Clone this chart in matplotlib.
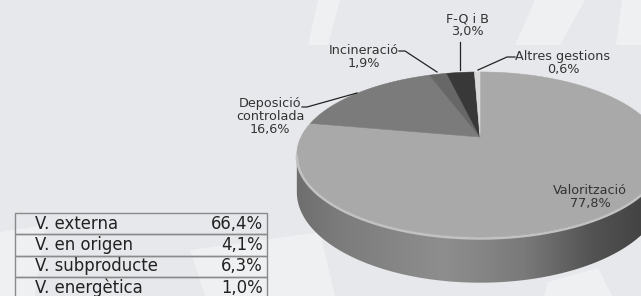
import numpy as np
import matplotlib.pyplot as plt
from matplotlib.patches import Polygon, Rectangle
from matplotlib.colors import LinearSegmentedColormap

# pie data (clockwise from 12 o'clock)
labels = ["Valorització", "Deposició\ncontrolada", "Incineració", "F-Q i B", "Altres gestions"]
values = [77.8, 16.6, 1.9, 3.0, 0.6]
top_colors = ["#a9a9a9", "#7b7b7b", "#676767", "#383838", "#dadada"]

# table under the pie
table_names = ["V. externa", "V. en origen", "V. subproducte", "V. energètica"]
table_values = [66.4, 4.1, 6.3, 1.0]

W, H = 641, 296
fig = plt.figure(figsize=(W / 100, H / 100), dpi=100)
fig.patch.set_facecolor("#e7e8eb")
ax = fig.add_axes([0, 0, 1, 1])
ax.set_xlim(0, W)
ax.set_ylim(H, 0)
ax.axis("off")

# faded watermark shapes in the background
wm = "#eff0f2"
for pts in [
    [(318, 0), (340, 0), (328, 45), (308, 45)],
    [(535, 0), (585, 0), (560, 45), (515, 45)],
    [(622, 0), (641, 0), (641, 45), (616, 45)],
    [(190, 250), (320, 232), (335, 296), (205, 296)],
    [(0, 232), (45, 225), (35, 296), (0, 296)],
    [(548, 282), (598, 268), (612, 296), (544, 296)],
]:
    ax.add_patch(Polygon(pts, closed=True, fc=wm, ec="none", zorder=0))

# perspective ellipse for the 3D pie
cx, cy = 480, 137
Rx, K, C = 179, 78.8, 0.212
T = 36


def proj(theta, drop=0.0):
    u, v = np.sin(theta), np.cos(theta)
    w = 1 + C * v
    return cx + Rx * u / w, cy - K * v / w + drop / w


# side band (front arc only), shaded with a horizontal gradient
t_lo = np.arccos(-C)
t_hi = 2 * np.pi - t_lo
ts = np.linspace(t_lo, t_hi, 300)
xt, yt = proj(ts)
xb, yb = proj(ts[::-1], T)
side = Polygon(list(zip(np.r_[xt, xb], np.r_[yt, yb])), closed=True,
               fc="none", ec="none", zorder=2)
ax.add_patch(side)
side_cmap = LinearSegmentedColormap.from_list(
    "side", [(0, "#6e6e6e"), (0.12, "#7c7c7c"), (0.4, "#8e8e8e"),
             (0.62, "#7a7a7a"), (0.8, "#545454"), (1, "#3c3c3c")])
xl, xr = cx - 184, cx + 184
grad = np.linspace(0, 1, 256)[None, :]
im = ax.imshow(grad, cmap=side_cmap, extent=[xl, xr, 300, 100], aspect="auto",
               zorder=2, interpolation="bilinear")
im.set_clip_path(side)
ax.set_xlim(0, W)
ax.set_ylim(H, 0)

# top face slices
start = 0.0
total = sum(values)
for val, col in zip(values, top_colors):
    a0 = start / total * 2 * np.pi
    a1 = (start + val) / total * 2 * np.pi
    th = np.linspace(a0, a1, max(int(val * 4), 4))
    xs, ys = proj(th)
    pts = [(cx, cy)] + list(zip(xs, ys))
    ax.add_patch(Polygon(pts, closed=True, fc=col, ec=col, lw=0.4, zorder=3))
    start += val

# light rim along the front edge
ax.plot(xt, yt + 1.5, color="#c2c2c2", lw=1.8, zorder=4, solid_capstyle="round")

# labels with leader lines
fs = 9.2
tc = "#333333"
pct = [f"{v:.1f}".replace(".", ",") + "%" for v in values]
lab_pos = [(590, 197), (270, 117), (364, 57), (467, 25), (563, 63)]
for lab, p, (lx, ly) in zip(labels, pct, lab_pos):
    ax.text(lx, ly, lab + "\n" + p, ha="center", va="center",
            fontsize=fs, color=tc, linespacing=1.0, zorder=5)

lc = "#222222"
ax.plot([302, 307, 357], [107, 107, 93], color=lc, lw=0.9, zorder=5)
ax.plot([399, 405, 437], [51, 51, 72], color=lc, lw=0.9, zorder=5)
ax.plot([460, 460], [42, 70], color=lc, lw=0.9, zorder=5)
ax.plot([515, 507, 478], [57, 57, 70], color=lc, lw=0.9, zorder=5)

# table
tx0, tx1, ty0, rh = 15, 267, 213, 21.3
for i, (name, val) in enumerate(zip(table_names, table_values)):
    y = ty0 + i * rh
    ax.add_patch(Rectangle((tx0, y), tx1 - tx0, rh, fc="none", ec="#8a8a8a",
                           lw=1.0, zorder=5))
    ax.text(tx0 + 20, y + rh / 2, name, ha="left", va="center",
            fontsize=11.9, color="#222222", zorder=6)
    ax.text(tx1 - 4, y + rh / 2, f"{val:.1f}".replace(".", ",") + "%",
            ha="right", va="center", fontsize=11.9, color="#222222", zorder=6)

fig.savefig("out.png", dpi=100, facecolor=fig.get_facecolor())
